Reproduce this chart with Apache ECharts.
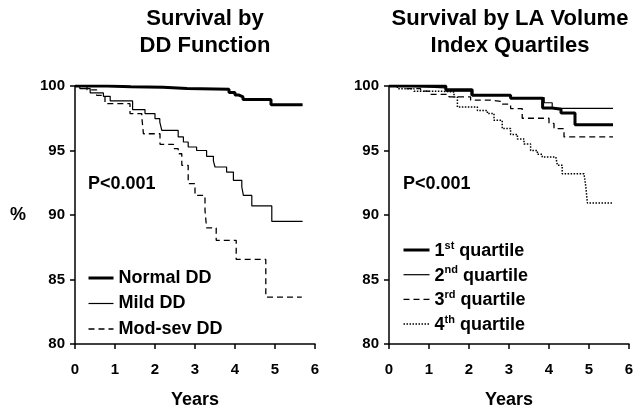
<!DOCTYPE html>
<html>
<head>
<meta charset="utf-8">
<script src="https://cdn.jsdelivr.net/npm/echarts@6/dist/echarts.min.js"></script>
<style>html,body{margin:0;padding:0;background:#fff}#c{width:636px;height:409px}</style>
</head>
<body>
<div id="c"></div>
<script>
// ---- data (years, survival %) ----
const xTicks = [0, 1, 2, 3, 4, 5, 6];
const yTicks = [80, 85, 90, 95, 100];
const leftTitle = 'Survival by\nDD Function';
const rightTitle = 'Survival by LA Volume\nIndex Quartiles';
const leftNames = ['Normal DD', 'Mild DD', 'Mod-sev DD'];
const rightNames = ['1st quartile', '2nd quartile', '3rd quartile', '4th quartile'];

const normalDD = [[0,100],[0.8,99.95],[1.4,99.9],[2.2,99.8],[2.8,99.75],[3.85,99.5],[4.0,99.3],[4.1,99.15],[4.2,98.95],[4.9,98.55],[5.69,98.55]];
const mildDD = [[0,100],[0.12,99.8],[0.38,99.46],[0.71,99.2],[0.88,98.84],[1.44,98.17],[1.75,97.86],[2.0,97.47],[2.12,97.2],[2.17,96.56],[2.58,96.05],[2.71,95.66],[2.83,95.27],[3.04,95.0],[3.29,94.55],[3.46,94.19],[3.5,93.72],[3.79,93.33],[3.96,92.69],[4.17,92.17],[4.21,91.52],[4.42,90.7],[4.92,89.5],[5.69,89.5]];
const modSevDD = [[0,100],[0.3,99.7],[0.54,99.28],[0.75,98.63],[1.375,97.86],[1.67,97.6],[1.71,96.3],[2.125,95.48],[2.46,95.14],[2.58,94.75],[2.67,93.85],[2.83,92.43],[3.0,91.52],[3.25,90.36],[3.29,89.0],[3.53,88.04],[4.03,86.56],[4.77,83.64],[5.67,83.64]];

const q1 = [[0,100],[1.42,99.7],[2.08,99.28],[3.04,99.05],[3.84,98.3],[4.08,98.2],[4.3,97.9],[4.65,97.0],[5.6,97.0]];
const q2 = [[0,100],[0.3,99.85],[1.42,99.6],[2.05,99.3],[3.04,99.1],[3.88,98.7],[4.08,98.27],[5.6,98.27]];
const q3 = [[0,100],[0.375,99.79],[0.79,99.6],[1.0,99.35],[1.5,99.15],[2.04,98.9],[2.54,98.8],[2.79,98.6],[3.04,98.25],[3.33,97.5],[4.0,97.1],[4.125,96.7],[4.375,96.05],[5.6,96.05]];
const q4 = [[0,100],[0.21,99.79],[0.625,99.6],[1.33,99.53],[1.625,99.15],[1.71,98.37],[2.125,98.37],[2.21,98.1],[2.46,97.86],[2.625,97.34],[2.83,96.7],[3.04,96.25],[3.21,95.9],[3.375,95.5],[3.54,95.0],[3.71,94.7],[3.83,94.5],[4.17,94.5],[4.21,93.85],[4.33,93.2],[4.875,93.2],[4.92,92.2],[4.96,90.93],[5.6,90.93]];

// ---- chart ----
const FONT = '"Liberation Sans", Arial, sans-serif';
const chart = echarts.init(document.getElementById('c'));

const WIDTHS = [3, 1.2, 1.3, 1.5];
const TYPES = ['solid', 'solid', [6, 4], [1.5, 1.5]];

function xAx(gi){
  return {
    gridIndex: gi, type: 'value', min: 0, max: 6, interval: 1,
    name: 'Years', nameLocation: 'middle', nameGap: 47,
    nameTextStyle: {fontFamily: FONT, fontWeight: 'bold', fontSize: 18, color: '#000'},
    axisLine: {show: true, onZero: false, lineStyle: {color: '#000', width: 1.5}},
    axisTick: {show: true, length: 5, lineStyle: {color: '#000', width: 1.5}},
    splitLine: {show: false},
    axisLabel: {fontFamily: FONT, fontWeight: 'bold', fontSize: 15, color: '#000', margin: 18,
      formatter: v => xTicks.includes(v) ? String(v) : ''}
  };
}
function yAx(gi){
  return {
    gridIndex: gi, type: 'value', min: 80, max: 100, interval: 5,
    axisLine: {show: true, onZero: false, lineStyle: {color: '#000', width: 1.5}},
    axisTick: {show: true, length: 5, lineStyle: {color: '#000', width: 1.5}},
    splitLine: {show: false},
    axisLabel: {fontFamily: FONT, fontWeight: 'bold', fontSize: 15, color: '#000', margin: 10,
      formatter: v => yTicks.includes(v) ? String(v) : ''}
  };
}
function ser(name, data, gi, k){
  return {
    name, type: 'line', step: 'end', data, xAxisIndex: gi, yAxisIndex: gi,
    symbol: 'none', showSymbol: false, silent: true,
    lineStyle: {color: '#000', width: WIDTHS[k], type: TYPES[k]},
    itemStyle: {color: '#000'}
  };
}

const supRich = {
  n: {fontFamily: FONT, fontWeight: 'bold', fontSize: 18, color: '#000', lineHeight: 20, verticalAlign: 'bottom'},
  s: {fontFamily: FONT, fontWeight: 'bold', fontSize: 11, color: '#000', lineHeight: 20, verticalAlign: 'top'}
};
const supText = {
  '1st quartile': '{n|1}{s|st}{n| quartile}',
  '2nd quartile': '{n|2}{s|nd}{n| quartile}',
  '3rd quartile': '{n|3}{s|rd}{n| quartile}',
  '4th quartile': '{n|4}{s|th}{n| quartile}'
};
const hiddenSymbol = {color: 'rgba(0,0,0,0)', borderColor: 'rgba(0,0,0,0)', borderWidth: 0, opacity: 0};
const legendItems = (names, kinds) => names.map((n, i) => ({
  name: n, itemStyle: hiddenSymbol,
  lineStyle: {color: '#000', width: WIDTHS[kinds[i]], type: TYPES[kinds[i]], opacity: 1}
}));

chart.setOption({
  animation: false,
  backgroundColor: '#fff',
  title: [
    {text: leftTitle, left: 205, top: 5, padding: 0, textAlign: 'center',
     textStyle: {fontFamily: FONT, fontWeight: 'bold', fontSize: 22, lineHeight: 27, color: '#000'}},
    {text: rightTitle, left: 510, top: 5, padding: 0, textAlign: 'center',
     textStyle: {fontFamily: FONT, fontWeight: 'bold', fontSize: 22, lineHeight: 27, color: '#000'}}
  ],
  grid: [
    {left: 75, top: 86, width: 240, height: 258, containLabel: false, outerBoundsMode: 'none'},
    {left: 389, top: 86, width: 240, height: 258, containLabel: false, outerBoundsMode: 'none'}
  ],
  xAxis: [xAx(0), xAx(1)],
  yAxis: [yAx(0), yAx(1)],
  legend: [
    {data: legendItems(leftNames, [0, 1, 2]), orient: 'vertical', left: 87, top: 269, padding: 0,
     itemWidth: 25, itemHeight: 14, itemGap: 7.5, selectedMode: false,
     itemStyle: hiddenSymbol, lineStyle: {width: 'inherit'},
     textStyle: {fontFamily: FONT, fontWeight: 'bold', fontSize: 18, color: '#000'}},
    {data: legendItems(rightNames, [0, 1, 2, 3]), orient: 'vertical', left: 402, top: 240, padding: 0,
     itemWidth: 26, itemHeight: 14, itemGap: 4.7, selectedMode: false,
     itemStyle: hiddenSymbol, lineStyle: {width: 'inherit'},
     formatter: n => supText[n],
     textStyle: {fontFamily: FONT, fontWeight: 'bold', fontSize: 18, color: '#000', rich: supRich}}
  ],
  graphic: [
    {type: 'text', left: 10, top: 206, style: {text: '%', font: 'bold 18px ' + FONT, fill: '#000'}},
    {type: 'text', left: 88, top: 175, style: {text: 'P<0.001', font: 'bold 18px ' + FONT, fill: '#000'}},
    {type: 'text', left: 403, top: 175, style: {text: 'P<0.001', font: 'bold 18px ' + FONT, fill: '#000'}}
  ],
  series: [
    ser(leftNames[0], normalDD, 0, 0),
    ser(leftNames[1], mildDD, 0, 1),
    ser(leftNames[2], modSevDD, 0, 2),
    ser(rightNames[0], q1, 1, 0),
    ser(rightNames[1], q2, 1, 1),
    ser(rightNames[2], q3, 1, 2),
    ser(rightNames[3], q4, 1, 3)
  ]
});
</script>
</body>
</html>
